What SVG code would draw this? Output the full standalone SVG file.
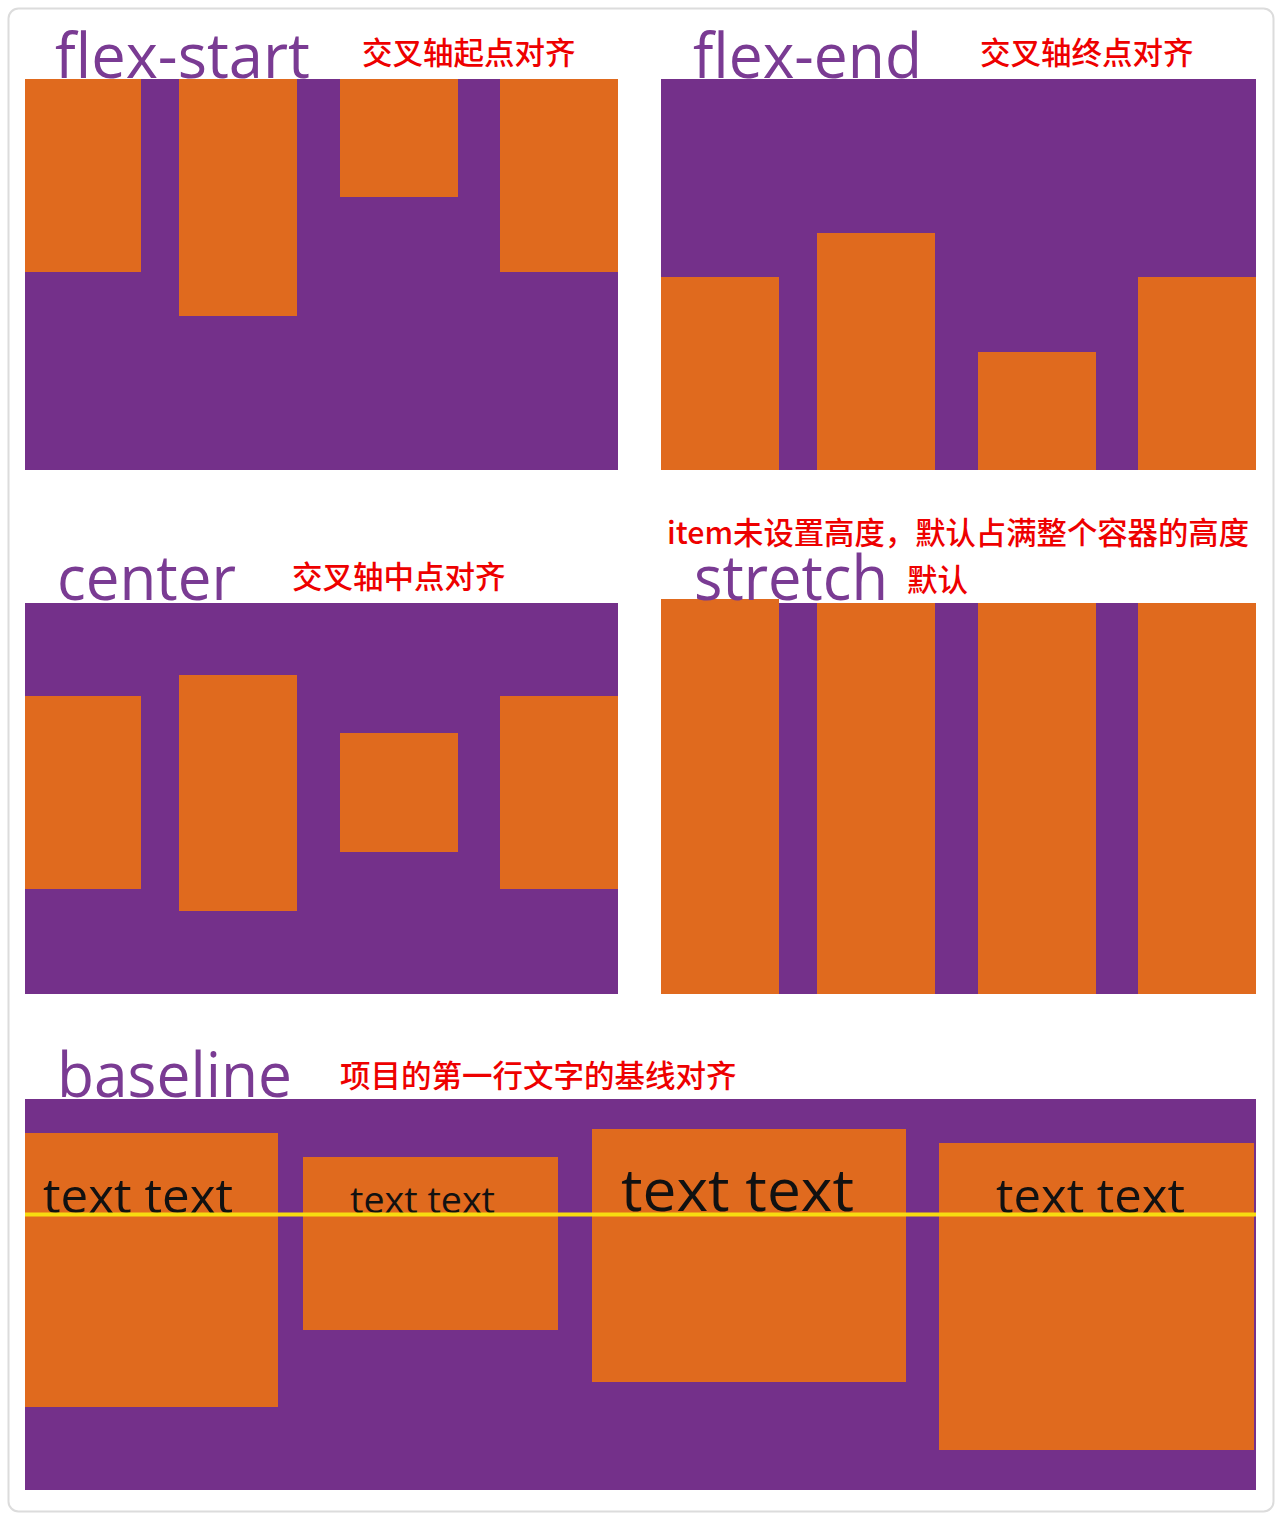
<svg xmlns="http://www.w3.org/2000/svg" width="1282" height="1520" viewBox="0 0 1282 1520">
<style>
.box{fill:#74308a}
.it{fill:#e06a1e}
.ttl{font-family:"Open Sans","Noto Sans",sans-serif;font-size:62px;fill:#7a3b93}
.lbl{font-family:"Noto Sans CJK SC","Noto Sans",sans-serif;font-size:30.5px;font-weight:500;fill:#ee0000}
.tx{font-family:"Open Sans","Noto Sans",sans-serif;fill:#111}
</style>
<rect x="0" y="0" width="1282" height="1520" fill="#ffffff"/>
<rect x="8.5" y="8.5" width="1265" height="1503" rx="10" fill="#fff" stroke="#dcdcdc" stroke-width="2"/>
<g id="flex-start">
<rect class="box" x="25" y="79" width="593" height="391"/>
<rect class="it" x="25" y="79" width="116" height="193"/>
<rect class="it" x="179" y="79" width="118" height="237"/>
<rect class="it" x="340" y="79" width="118" height="118"/>
<rect class="it" x="500" y="79" width="118" height="193"/>
<text class="ttl" x="55" y="78" textLength="255" lengthAdjust="spacingAndGlyphs">flex-start</text>
<text class="lbl" x="362" y="64">交叉轴起点对齐</text>
</g>
<g id="flex-end">
<rect class="box" x="661" y="79" width="595" height="391"/>
<rect class="it" x="661" y="277" width="118" height="193"/>
<rect class="it" x="817" y="233" width="118" height="237"/>
<rect class="it" x="978" y="352" width="118" height="118"/>
<rect class="it" x="1138" y="277" width="118" height="193"/>
<text class="ttl" x="693" y="78" textLength="229" lengthAdjust="spacingAndGlyphs">flex-end</text>
<text class="lbl" x="980" y="64">交叉轴终点对齐</text>
</g>
<g id="center">
<rect class="box" x="25" y="603" width="593" height="391"/>
<rect class="it" x="25" y="696" width="116" height="193"/>
<rect class="it" x="179" y="675" width="118" height="236"/>
<rect class="it" x="340" y="733" width="118" height="119"/>
<rect class="it" x="500" y="696" width="118" height="193"/>
<text class="ttl" x="57" y="600" textLength="179" lengthAdjust="spacingAndGlyphs">center</text>
<text class="lbl" x="292" y="588">交叉轴中点对齐</text>
</g>
<g id="stretch">
<rect class="box" x="661" y="603" width="595" height="391"/>
<rect class="it" x="661" y="599" width="118" height="395"/>
<rect class="it" x="817" y="603" width="118" height="391"/>
<rect class="it" x="978" y="603" width="118" height="391"/>
<rect class="it" x="1138" y="603" width="118" height="391"/>
<text class="ttl" x="694" y="600" textLength="194" lengthAdjust="spacingAndGlyphs">stretch</text>
<text class="lbl" x="907" y="591">默认</text>
<text class="lbl" x="667" y="544" textLength="582" lengthAdjust="spacingAndGlyphs">item未设置高度，默认占满整个容器的高度</text>
</g>
<g id="baseline">
<rect class="box" x="25" y="1099" width="1231" height="391"/>
<rect class="it" x="25" y="1133" width="253" height="274"/>
<rect class="it" x="303" y="1157" width="255" height="173"/>
<rect class="it" x="592" y="1129" width="314" height="253"/>
<rect class="it" x="939" y="1143" width="315" height="307"/>
<text class="tx" x="43" y="1213" font-size="48" textLength="190" lengthAdjust="spacingAndGlyphs">text text</text>
<text class="tx" x="350" y="1213" font-size="36" textLength="145" lengthAdjust="spacingAndGlyphs">text text</text>
<text class="tx" x="621" y="1211" font-size="58" textLength="233" lengthAdjust="spacingAndGlyphs">text text</text>
<text class="tx" x="996" y="1213" font-size="48" textLength="189" lengthAdjust="spacingAndGlyphs">text text</text>
<text class="ttl" x="57" y="1097" textLength="235" lengthAdjust="spacingAndGlyphs">baseline</text>
<text class="lbl" x="340" y="1087">项目的第一行文字的基线对齐</text>
</g>
<g id="connectors">
<line x1="25" y1="1214.5" x2="1256" y2="1214.5" stroke="#f7dc10" stroke-width="4"/>
</g>
</svg>
